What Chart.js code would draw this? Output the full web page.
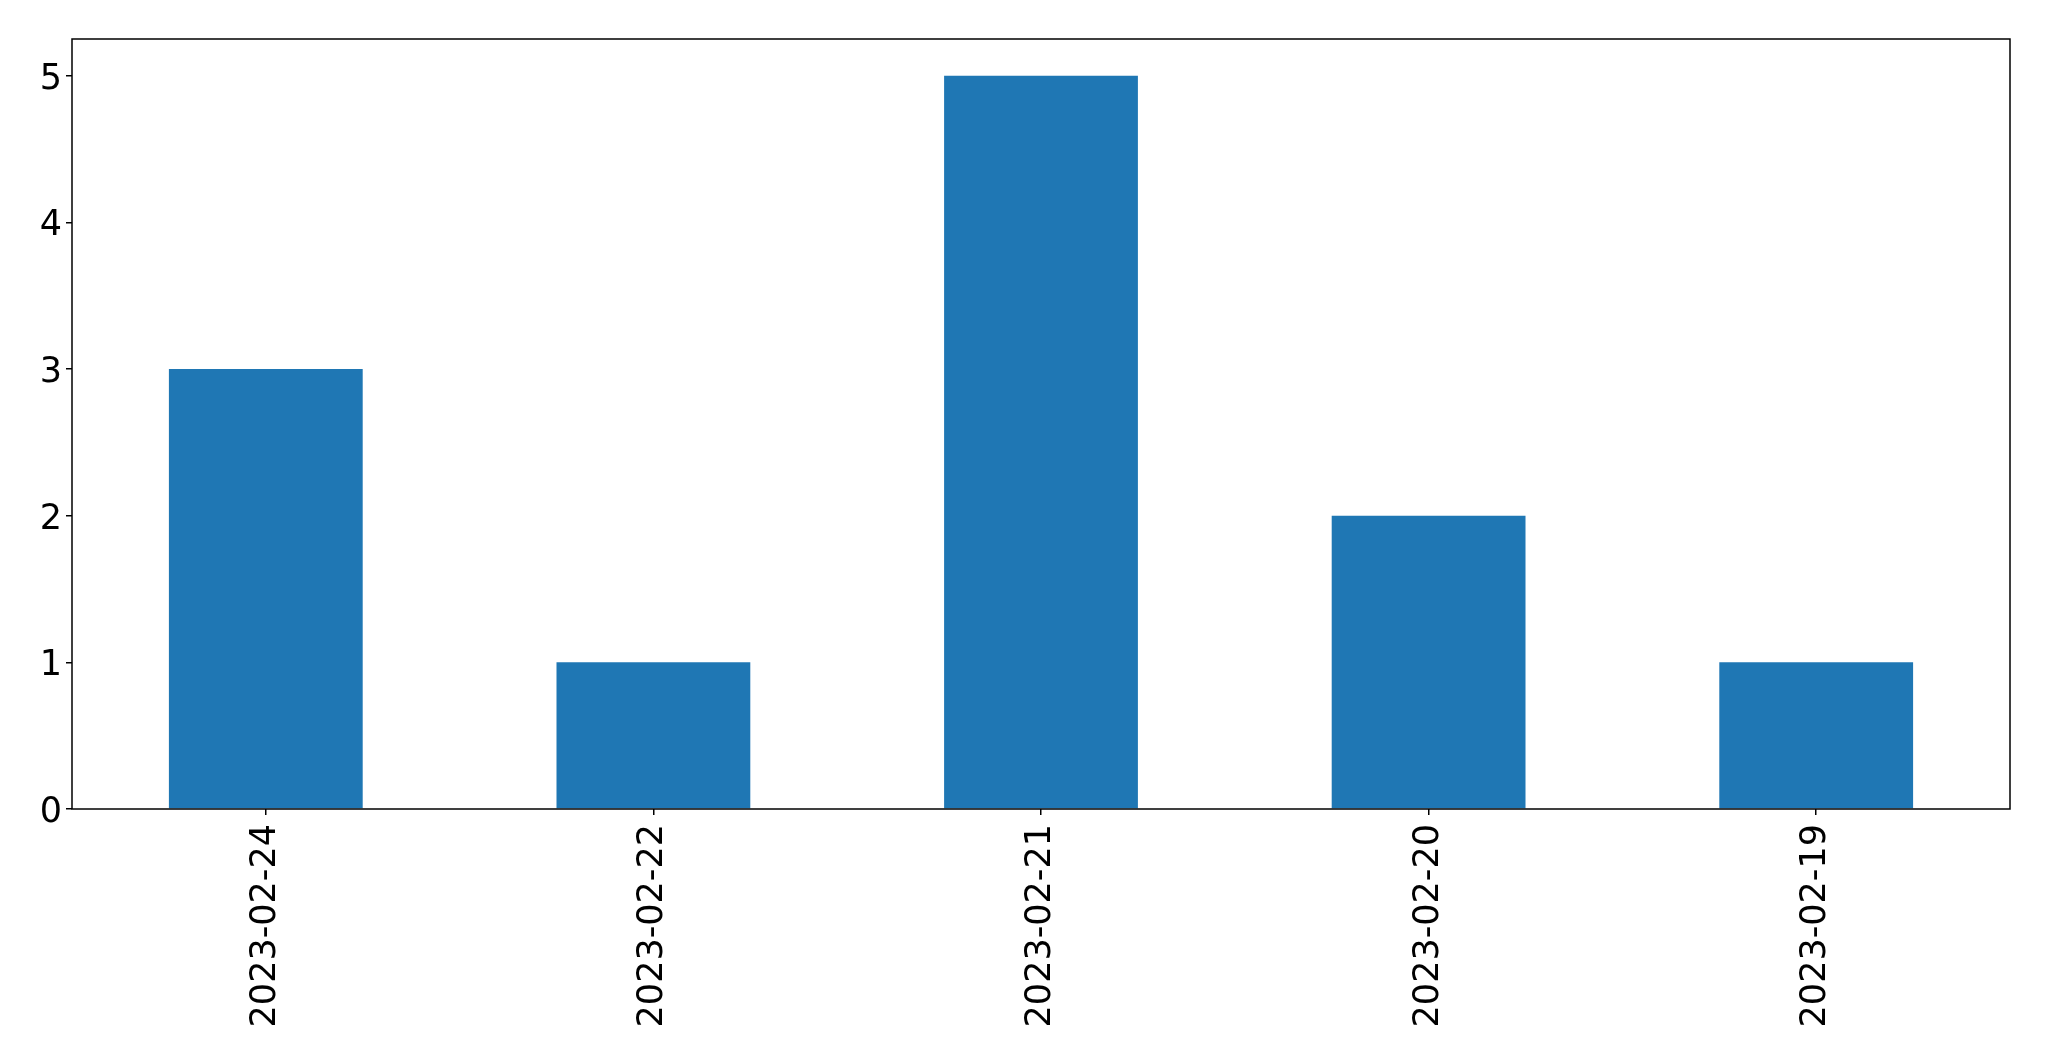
<!DOCTYPE html>
<html>
<head>
<meta charset="utf-8">
<script src="https://cdn.jsdelivr.net/npm/chart.js@4.4.0/dist/chart.umd.min.js"></script>
<style>
  html, body { margin: 0; padding: 0; background: #fff; }
  #wrap { width: 2049px; height: 1061px; }
</style>
</head>
<body>
<div id="wrap"><canvas id="barChart" width="2049" height="1061"></canvas></div>
<script>
// ── Data ─────────────────────────────────────
const dates = ['2023-02-24', '2023-02-22', '2023-02-21', '2023-02-20', '2023-02-19'];
const counts = [3, 1, 5, 2, 1];
const yTicks = [0, 1, 2, 3, 4, 5];

const BLUE = '#1f77b4';
const font = { family: "'DejaVu Sans', sans-serif", size: 35 };

// plot box (matches the reference frame)
const BOX = { left: 72, top: 39, right: 2010, bottom: 809 };

const frame = {
  id: 'frame',
  afterDraw(chart) {
    const { ctx, chartArea: a } = chart;
    ctx.save();
    ctx.strokeStyle = '#000';
    ctx.lineWidth = 1.5;
    ctx.strokeRect(a.left, a.top, a.right - a.left, a.bottom - a.top);
    ctx.restore();
  },
};

new Chart(document.getElementById('barChart'), {
  type: 'bar',
  data: {
    labels: dates,
    datasets: [{
      data: counts,
      backgroundColor: BLUE,
      borderWidth: 0,
      barPercentage: 0.5,
      categoryPercentage: 1.0,
    }],
  },
  options: {
    responsive: false,
    animation: false,
    events: [],
    layout: { padding: { top: BOX.top, right: 2049 - BOX.right, left: 0, bottom: 0 } },
    plugins: { legend: { display: false }, tooltip: { enabled: false } },
    scales: {
      x: {
        grid: { offset: false, drawOnChartArea: false, color: '#000', tickLength: 6, lineWidth: 1.5 },
        border: { display: false },
        ticks: { color: '#000', font, maxRotation: 90, minRotation: 90, padding: 9, autoSkip: false },
        afterFit: (s) => { s.height = 1061 - BOX.bottom; },
      },
      y: {
        min: 0,
        max: 5.25,
        grid: { drawOnChartArea: false, color: '#000', tickLength: 6, lineWidth: 1.5 },
        border: { display: false },
        afterBuildTicks: (s) => { s.ticks = yTicks.map(v => ({ value: v })); },
        ticks: { color: '#000', font, padding: 4, labelOffset: 4 },
        afterFit: (s) => { s.width = BOX.left; },
      },
    },
  },
  plugins: [frame],
});
</script>
</body>
</html>
